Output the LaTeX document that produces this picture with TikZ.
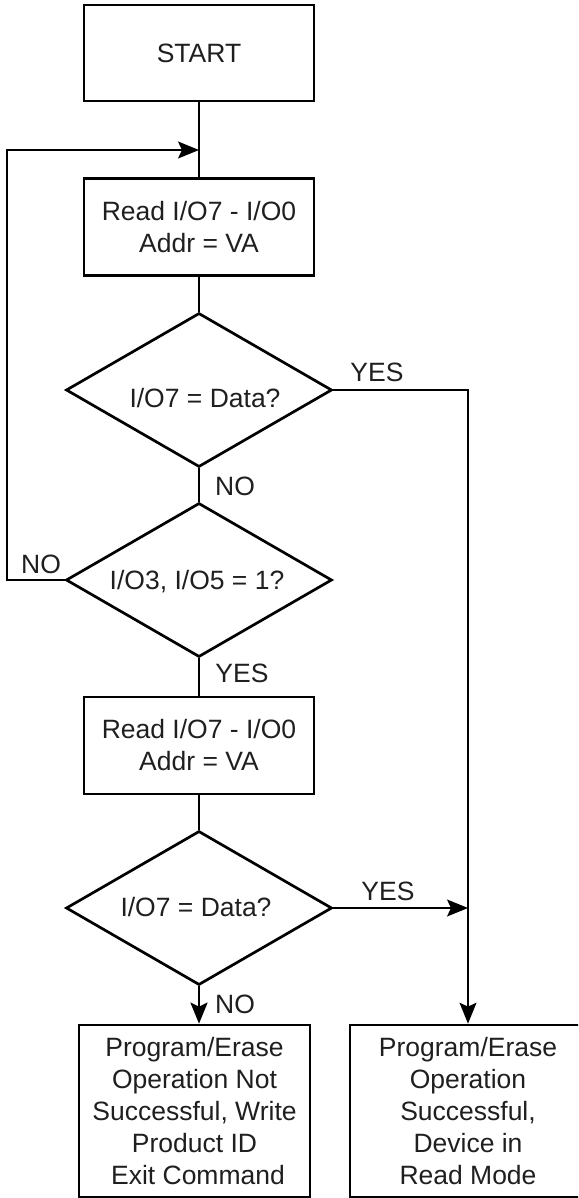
\documentclass[tikz,border=0pt]{standalone}
\usepackage{fontspec}
\setmainfont{Liberation Sans}
\usetikzlibrary{shapes.geometric,arrows.meta}
\begin{document}
\begin{tikzpicture}[x=1pt,y=-1pt,
  txt/.style={font=\fontsize{26.5}{32}\selectfont, text=black!88},
  box/.style={draw, line width=2.7pt, txt, align=center, inner sep=0pt},
  dia/.style={draw, diamond, line width=2.7pt, inner sep=0pt, minimum width=266pt, minimum height=154pt},
  thickln/.style={line width=2.7pt},
  thinln/.style={line width=1.2pt},
  tip/.style={-{Stealth[length=21pt,width=17pt,inset=4pt]}},
  lbl/.style={txt, inner sep=0pt}]
\useasboundingbox (0,0) rectangle (578,1198);

% boxes
\node[box, minimum width=230pt, minimum height=96pt] (start) at (199,53) {START};
\node[box, minimum width=230pt, minimum height=97pt] (read1) at (199,227) {Read I/O7 - I/O0\\Addr = VA};
\node[dia] (d1) at (199,390) {};
\node[lbl] (d1t) at (205,398) {I/O7 = Data?};
\node[dia] (d2) at (199,580) {};
\node[lbl] (d2t) at (197,582) {I/O3, I/O5 = 1?};
\node[box, minimum width=230pt, minimum height=97pt] (read2) at (199,745.5) {Read I/O7 - I/O0\\Addr = VA};
\node[dia] (d3) at (199,908) {};
\node[lbl] (d3t) at (196,907.5) {I/O7 = Data?};
\node[box, minimum width=231pt, minimum height=172pt] (fail) at (194.5,1111) {Program/Erase\\Operation Not\\Successful, Write\\Product ID\\\hspace*{7pt}Exit Command};
\begin{scope}
\clip (0,0) rectangle (578,1198);
\node[box, minimum width=236pt, minimum height=172pt] (ok) at (468,1111) {Program/Erase\\Operation\\Successful,\\Device in\\Read Mode};
\end{scope}

% junction coordinates
\coordinate (j) at (199,150);
\coordinate (lp) at (7,150);

% connectors
\draw[thickln] (start.south) -- (read1.north);
\draw[thickln] (read1.south) -- (d1.north);
\draw[thickln] (d1.south) -- (d2.north);
\draw[thickln] (d2.south) -- (read2.north);
\draw[thickln] (read2.south) -- (d3.north);
\draw[thickln, tip] (d3.south) -- (d3.south |- fail.north);
\draw[thinln, tip] (d1.east) -| (ok.north);
\draw[thinln, tip] (d3.east) -- (d3.east -| ok.north);
\draw[thinln, tip] (d2.west) -| (lp) -- (j);

% labels
\node[lbl] (yes1) at (377,372) {YES};
\node[lbl] (no1) at (235,486) {NO};
\node[lbl] (no2) at (41,564) {NO};
\node[lbl] (yes2) at (242,673) {YES};
\node[lbl] (yes3) at (388,891) {YES};
\node[lbl] (no3) at (235,1004) {NO};
\end{tikzpicture}
\end{document}
